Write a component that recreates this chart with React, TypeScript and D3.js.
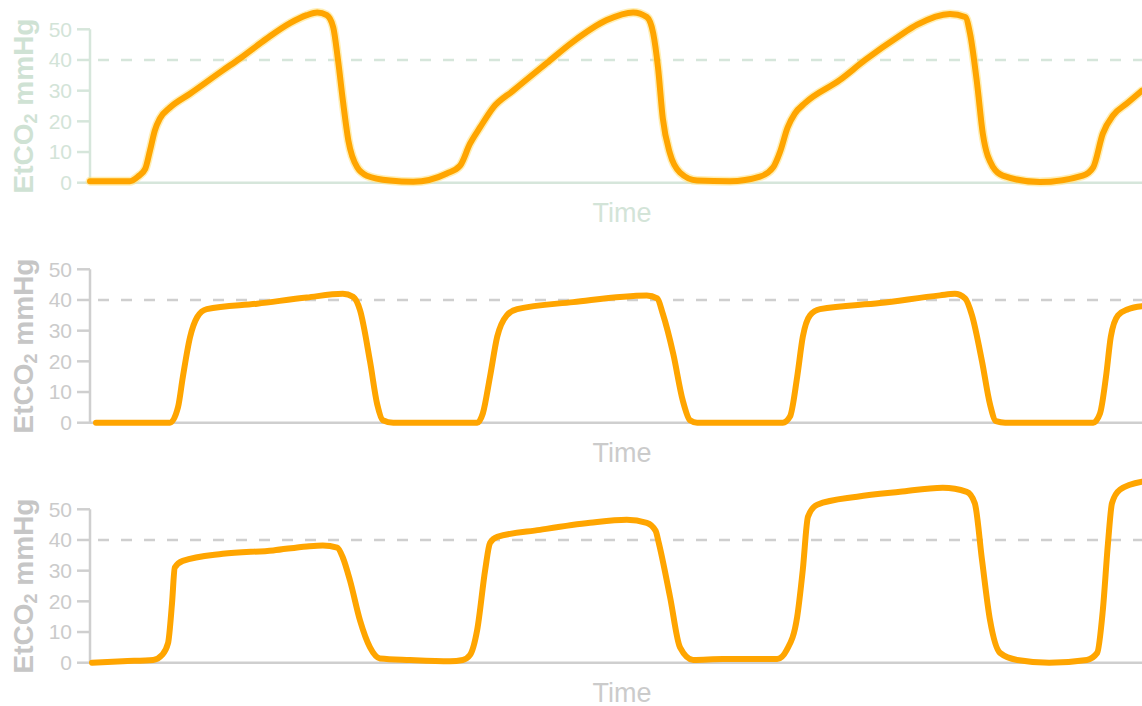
import React from "react";
import * as d3 from "d3";

// time in seconds, EtCO2 in mmHg
const normalTime = [0, 0.5, 0.6, 0.69, 0.75, 0.81, 0.875, 1.0, 1.25, 1.66, 1.875, 2.21, 2.5, 2.71, 2.84, 2.96, 3.04, 3.1, 3.16, 3.23, 3.34, 3.46, 3.75, 4.04, 4.46, 4.625, 4.75, 4.875, 5.04, 5.29, 5.71, 6.04, 6.46, 6.79, 6.96, 7.04, 7.1, 7.16, 7.25, 7.375, 7.59, 8.0, 8.375, 8.54, 8.625, 8.72, 8.81, 8.94, 9.375, 9.69, 10.125, 10.34, 10.75, 10.94, 11.0, 11.09, 11.16, 11.29, 11.41, 11.875, 12.41, 12.54, 12.66, 12.79, 12.96, 13.15];
const normalValues = [0.5, 0.5, 2, 4.5, 10.5, 17, 21, 24.5, 29, 36.6, 40.5, 47, 52, 54.6, 55.5, 54.6, 50.7, 40, 27, 13.7, 5, 2.3, 0.7, 0.3, 3, 5.5, 12.7, 18, 24.5, 30, 39, 46, 53, 55.5, 54, 48.7, 37.6, 21, 9.5, 3.3, 0.7, 0.5, 2, 5, 10, 18, 22.5, 26, 33.5, 40, 48, 51.5, 55, 54, 48.7, 32, 16, 5, 2.3, 0.2, 2.3, 5, 16, 22, 25.8, 30];

const plateauTime = [0.075, 1.0, 1.1, 1.16, 1.25, 1.34, 1.46, 2.09, 2.71, 3.16, 3.29, 3.375, 3.5, 3.59, 3.66, 3.79, 4.84, 4.91, 5.0, 5.09, 5.21, 5.34, 6.04, 6.96, 7.09, 7.16, 7.29, 7.41, 7.5, 7.59, 8.66, 8.75, 8.84, 8.91, 9.0, 9.125, 9.875, 10.625, 10.81, 10.94, 11.025, 11.15, 11.25, 11.325, 11.44, 12.54, 12.625, 12.7, 12.76, 12.85, 12.975, 13.15];
const plateauValues = [0, 0, 5, 14.8, 27.8, 34.4, 37, 38.8, 40.8, 42, 41, 36.7, 20, 6, 0.8, 0, 0, 3, 15, 28, 35, 37, 39.3, 41.5, 40.5, 35.5, 22.5, 7.2, 0.8, 0, 0, 2, 15, 28, 35, 37, 39, 41.5, 42, 40.5, 35, 20, 6, 0.5, 0, 0, 3, 15, 28, 35, 37, 38];

const risingTime = [0.025, 0.41, 0.79, 0.9, 0.975, 1.025, 1.06, 1.16, 1.66, 2.29, 2.71, 2.91, 3.09, 3.16, 3.25, 3.375, 3.5, 3.625, 4.0, 4.5, 4.66, 4.75, 4.84, 4.94, 5.0, 5.09, 5.625, 6.25, 6.71, 6.96, 7.07, 7.11, 7.25, 7.375, 7.54, 7.91, 8.59, 8.71, 8.84, 8.91, 8.975, 9.09, 9.59, 10.125, 10.66, 10.96, 11.06, 11.15, 11.25, 11.375, 11.59, 11.99, 12.46, 12.59, 12.66, 12.725, 12.775, 12.875, 13.15];
const risingValues = [0, 0.5, 0.9, 2.5, 6.3, 19.3, 31, 33.2, 35.5, 36.6, 37.9, 38.2, 37.5, 34.3, 26.8, 13.8, 5, 1.4, 0.9, 0.5, 0.9, 2.5, 10.7, 30.3, 39, 41, 43.3, 45.6, 46.6, 45.6, 43, 39, 21.5, 5, 0.9, 1.2, 1.2, 4.2, 15, 30.3, 47.6, 51.5, 54.1, 55.7, 57, 55.7, 52, 33.5, 13.9, 3.2, 0.9, 0, 0.9, 3.2, 17, 39, 52, 56.4, 59];

const yTicks = [0, 10, 20, 30, 40, 50];
const referenceLevel = 40;
const yLabelText = "EtCO";
const xLabelText = "Time";

type Panel = {
  time: number[];
  values: number[];
  axisColor: string;
  textColor: string;
  labelColor: string;
  glow: boolean;
};

const panels: Panel[] = [
  { time: normalTime, values: normalValues, axisColor: "#d6e6db", textColor: "#d3e4d8", labelColor: "#cfe2d4", glow: true },
  { time: plateauTime, values: plateauValues, axisColor: "#cfcfcf", textColor: "#cbcbcb", labelColor: "#c6c6c6", glow: false },
  { time: risingTime, values: risingValues, axisColor: "#cfcfcf", textColor: "#cbcbcb", labelColor: "#c6c6c6", glow: false },
];

const W = 1142;
const H = 706;
const left = 90;
const panelTop0 = 29.3;
const panelBottom0 = 182.7;
const panelStep = 240;

export default function App() {
  const x = d3.scaleLinear().domain([0, 13.15]).range([left, W]);
  return (
    <div style={{ position: "absolute", left: 0, top: 0 }}>
      <svg width={W} height={H} style={{ display: "block", background: "#fff" }}>
        {panels.map((p, i) => {
          const y = d3
            .scaleLinear()
            .domain([0, 50])
            .range([panelBottom0 + i * panelStep, panelTop0 + i * panelStep]);
          const pts: [number, number][] = p.time.map((t, k) => [t, p.values[k]]);
          const line = d3
            .line<[number, number]>()
            .x((d) => x(d[0]))
            .y((d) => y(d[1]))
            .curve(d3.curveMonotoneX);
          const path = line(pts) || "";
          const midY = (y(0) + y(50)) / 2;
          return (
            <g key={i}>
              <line
                x1={left + 8}
                x2={W}
                y1={y(referenceLevel)}
                y2={y(referenceLevel)}
                stroke={p.axisColor}
                strokeWidth={2.5}
                strokeDasharray="11,12"
              />
              <line x1={left} x2={W} y1={y(0)} y2={y(0)} stroke={p.axisColor} strokeWidth={2.5} />
              <line x1={left} x2={left} y1={y(0)} y2={y(50)} stroke={p.axisColor} strokeWidth={2.5} />
              {y.ticks(5).filter((t) => yTicks.includes(t)).map((t) => (
                <g key={t}>
                  <line x1={left - 13} x2={left} y1={y(t)} y2={y(t)} stroke={p.axisColor} strokeWidth={2.5} />
                  <text
                    x={left - 18}
                    y={y(t)}
                    dy="0.35em"
                    textAnchor="end"
                    fontFamily="Liberation Sans, Arial, sans-serif"
                    fontSize={21}
                    fill={p.textColor}
                  >
                    {t}
                  </text>
                </g>
              ))}
              <text
                transform={`translate(33, ${midY}) rotate(-90)`}
                textAnchor="middle"
                fontFamily="Liberation Sans, Arial, sans-serif"
                fontWeight="bold"
                fontSize={28}
                fill={p.labelColor}
              >
                {yLabelText}
                <tspan fontSize={18} dy={4}>2</tspan>
                <tspan dy={-4}> mmHg</tspan>
              </text>
              <text
                x={622}
                y={y(0) + 39.5}
                textAnchor="middle"
                fontFamily="Liberation Sans, Arial, sans-serif"
                fontSize={27}
                fill={p.textColor}
              >
                {xLabelText}
              </text>
              {p.glow && (
                <path d={path} fill="none" stroke="#ffe27a" strokeWidth={9} strokeOpacity={0.55} strokeLinejoin="round" strokeLinecap="round" />
              )}
              <path d={path} fill="none" stroke="#ffa500" strokeWidth={6} strokeLinejoin="round" strokeLinecap="round" />
            </g>
          );
        })}
      </svg>
    </div>
  );
}
